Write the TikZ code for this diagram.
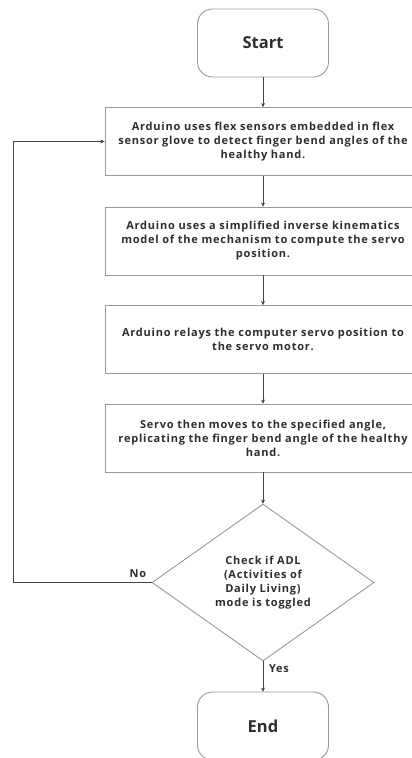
\documentclass[tikz,border=0pt]{standalone}
\usepackage{fontspec}
\setmainfont{Open Sans}
\newfontfamily\widefont[LetterSpace=7]{Open Sans}
\usetikzlibrary{shapes.geometric,arrows.meta}
\definecolor{txt}{HTML}{2E2E2E}
\definecolor{brd}{HTML}{9A9A9A}
\definecolor{arr}{HTML}{444444}
\begin{document}
\begin{tikzpicture}[x=1pt,y=-1pt,
  procbox/.style={draw=brd,line width=0.9pt,rectangle,minimum width=316pt,minimum height=68pt,
    align=center,text=txt,font=\widefont\fontsize{11}{14}\selectfont\bfseries,inner sep=0pt},
  termbox/.style={draw=brd,line width=0.9pt,rectangle,rounded corners=15pt,minimum width=131pt,
    minimum height=68pt,text=txt,font=\fontsize{16.5}{18}\selectfont\bfseries,inner sep=0pt},
  decbox/.style={draw=brd,line width=0.9pt,diamond,minimum width=222pt,minimum height=157pt,
    align=center,text=txt,font=\widefont\fontsize{11}{13.8}\selectfont\bfseries,inner sep=0pt,aspect=1.41},
  lbl/.style={text=txt,font=\widefont\fontsize{11}{12}\selectfont\bfseries,inner sep=0pt},
  conn/.style={draw=arr,line width=1pt,-{Stealth[length=4pt,width=4pt]}}]
\useasboundingbox (0,0) rectangle (412,758);
\fill[white] (0,0) rectangle (412,758);
\node[termbox] (start) at (263,43) {Start};
\node[procbox] (b1) at (263,141.5) {Arduino uses flex sensors embedded in flex\\sensor glove to detect finger bend angles of the\\healthy hand.};
\node[procbox] (b2) at (263,241) {Arduino uses a simplified inverse kinematics\\model of the mechanism to compute the servo\\position.};
\node[procbox] (b3) at (263,339.5) {Arduino relays the computer servo position to\\the servo motor.};
\node[procbox] (b4) at (263,438) {Servo then moves to the specified angle,\\replicating the finger bend angle of the healthy\\hand.};
\node[decbox] (dec) at (263,582.5) {Check if ADL\\(Activities of\\Daily Living)\\mode is toggled};
\node[termbox] (end) at (263,726) {End};
\coordinate (loop) at (13,582.5);
\draw[conn] (start) -- (b1);
\draw[conn] (b1) -- (b2);
\draw[conn] (b2) -- (b3);
\draw[conn] (b3) -- (b4);
\draw[conn] (b4) -- (dec);
\draw[conn] (dec) -- (end);
\draw[conn] (dec.west) -- (loop) |- (b1.west);
\node[lbl] (no) at (138,574) {No};
\node[lbl] (yes) at (279,669) {Yes};
\end{tikzpicture}
\end{document}
